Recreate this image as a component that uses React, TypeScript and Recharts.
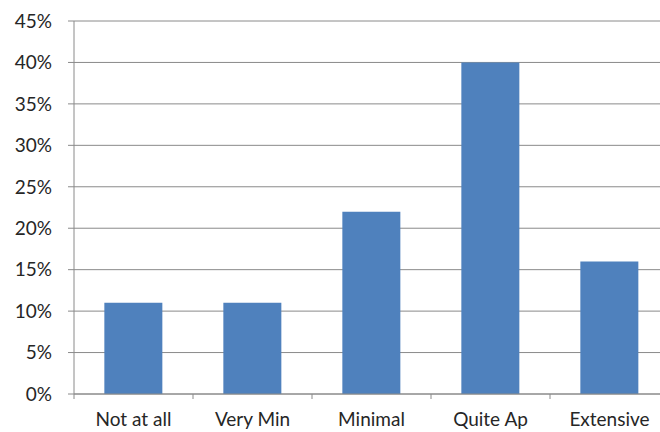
import { BarChart, Bar, XAxis, YAxis, CartesianGrid } from 'recharts';

const categories = ['Not at all', 'Very Min', 'Minimal', 'Quite Ap', 'Extensive'];
const shares = [11, 11, 22, 40, 16];
const yTicks = [0, 5, 10, 15, 20, 25, 30, 35, 40, 45];

const data = categories.map((name, i) => ({ name, share: shares[i] }));

const FONT = 'Lato, "Open Sans", sans-serif';
const TEXT = '#262626';
const GRID = '#8a8a8a';

const CategoryTick = (props: any) => {
  const { x, y, payload } = props;
  const half = payload && payload.offset ? payload.offset : 59.5;
  return (
    <g>
      <line x1={x - half} x2={x - half} y1={y} y2={y + 5} stroke={GRID} />
      <text x={x} y={y + 32} textAnchor="middle" fill={TEXT} fontFamily={FONT} fontSize={19}>
        {payload.value}
      </text>
    </g>
  );
};

const App = () => {
  return (
    <div
      style={{
        position: 'absolute',
        top: 0,
        left: 0,
        width: 660,
        height: 432,
        overflow: 'hidden',
        background: '#fff',
      }}
    >
      <BarChart
        width={680}
        height={432}
        data={data}
        margin={{ top: 21, right: 11, bottom: 0, left: 0 }}
        barCategoryGap="25.5%"
      >
        <CartesianGrid vertical={false} stroke={GRID} />
        <XAxis
          dataKey="name"
          height={38}
          axisLine={{ stroke: GRID }}
          tickLine={false}
          tickSize={0}
          tickMargin={0}
          tick={<CategoryTick />}
          interval={0}
        />
        <YAxis
          width={74}
          domain={[0, 45]}
          ticks={yTicks}
          interval={0}
          axisLine={{ stroke: GRID }}
          tickLine={{ stroke: GRID }}
          tickSize={6}
          tickMargin={16}
          tickFormatter={(v: number) => `${v}%`}
          tick={{ fill: TEXT, fontFamily: FONT, fontSize: 19 }}
        />
        <Bar dataKey="share" fill="#4f81bd" isAnimationActive={false} />
      </BarChart>
    </div>
  );
};

export default App;
